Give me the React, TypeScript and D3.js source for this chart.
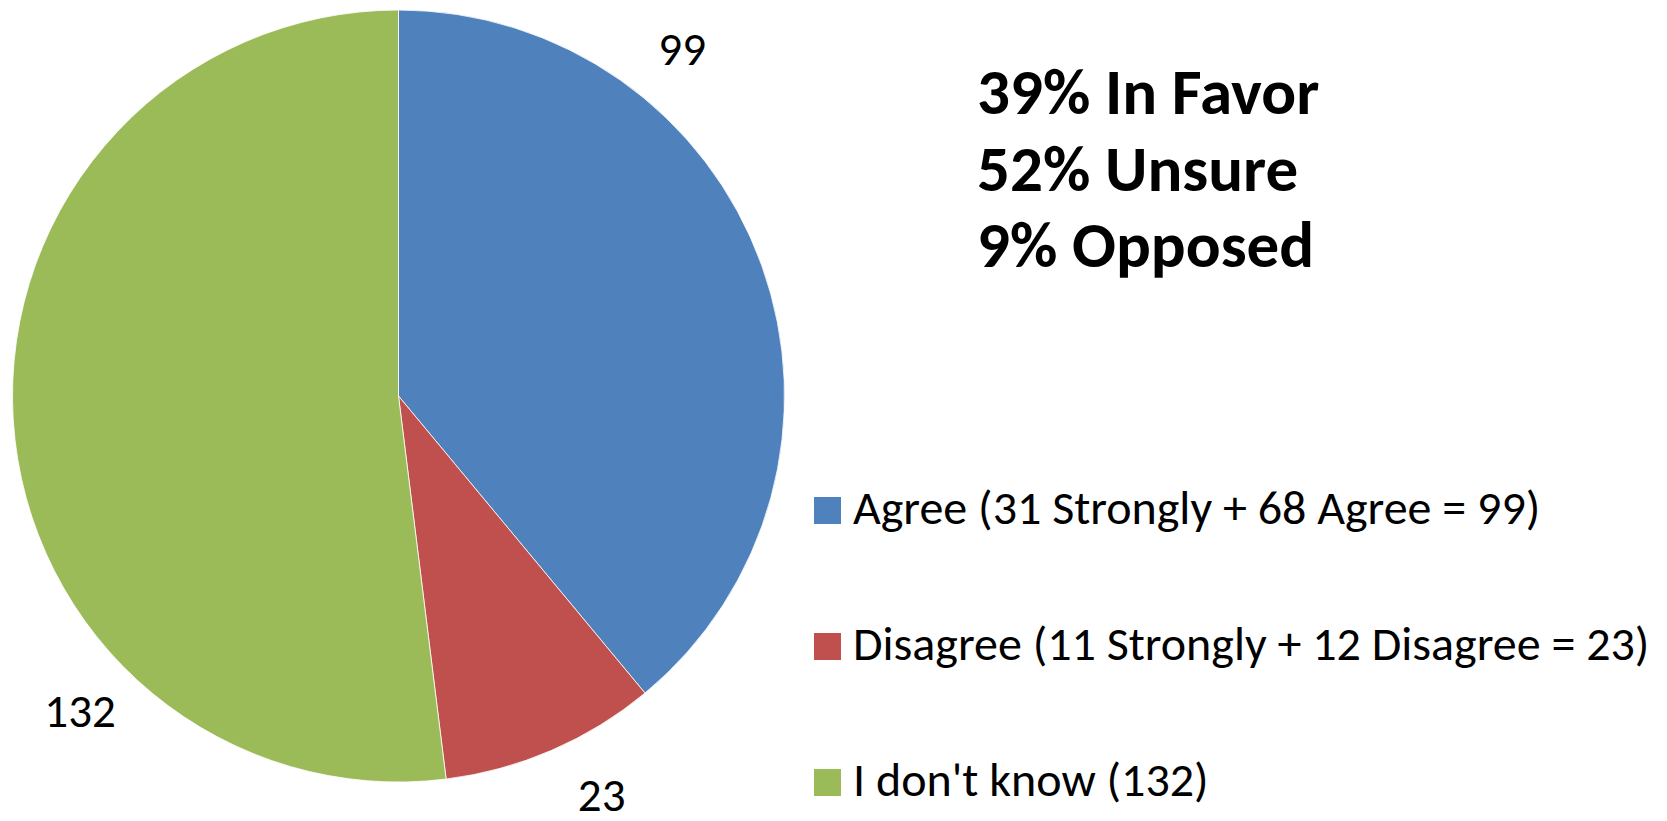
import { useEffect, useRef } from 'react'
import * as d3 from 'd3'

const categories = ['Agree', 'Disagree', "I don't know"]
const values = [99, 23, 132]
const legendLabels = [
  'Agree (31 Strongly + 68 Agree = 99)',
  'Disagree (11 Strongly + 12 Disagree = 23)',
  "I don't know (132)",
]
const summaryLines = ['39% In Favor', '52% Unsure', '9% Opposed']

const COLORS = ['#4F81BD', '#C0504D', '#9BBB59']
// where along each slice the value label sits (Excel "best fit")
const LABEL_FRACTION = [0.28, 0.39, 0.28]
const FONT = 'Carlito, Calibri, Lato, "Open Sans", sans-serif'

export default function App() {
  const ref = useRef<SVGSVGElement>(null)

  useEffect(() => {
    document.body.style.margin = '0'
    if (!ref.current) return
    const svg = d3.select(ref.current)
    svg.selectAll('*').remove()

    const width = 1667
    const height = 821
    svg.attr('width', width).attr('height', height).attr('viewBox', `0 0 ${width} ${height}`)

    const cx = 398.5
    const cy = 396
    const r = 386

    const data = categories.map((c, i) => ({ cat: c, value: values[i], color: COLORS[i] }))
    const pie = d3.pie<typeof data[0]>().sort(null).value(d => d.value)
    const arcs = pie(data)
    const arc = d3.arc<d3.PieArcDatum<typeof data[0]>>().innerRadius(0).outerRadius(r)

    const g = svg.append('g').attr('transform', `translate(${cx},${cy})`)

    g.selectAll('path')
      .data(arcs)
      .join('path')
      .attr('d', arc)
      .attr('fill', d => d.data.color)
      .attr('stroke', '#fff')
      .attr('stroke-width', 0.8)

    // value labels
    const labelR = 448
    const labelAngle = (d: d3.PieArcDatum<typeof data[0]>, i: number) =>
      d.startAngle + LABEL_FRACTION[i] * (d.endAngle - d.startAngle)
    g.selectAll('text.val')
      .data(arcs)
      .join('text')
      .attr('class', 'val')
      .attr('x', (d, i) => labelR * Math.sin(labelAngle(d, i)))
      .attr('y', (d, i) => -labelR * Math.cos(labelAngle(d, i)))
      .attr('dy', '0.33em')
      .attr('text-anchor', 'middle')
      .attr('font-family', FONT)
      .attr('font-size', '47px')
      .attr('fill', '#000')
      .text(d => d.data.value)

    // summary text
    svg.append('g')
      .selectAll('text')
      .data(summaryLines)
      .join('text')
      .attr('x', 977)
      .attr('y', (_, i) => 114 + i * 76.5)
      .attr('font-family', FONT)
      .attr('font-weight', 700)
      .attr('font-size', '65px')
      .attr('fill', '#000')
      .text(d => d)

    // legend
    const ly = d3.scalePoint<string>().domain(categories).range([524, 796])
    const legend = svg.append('g')
    categories.forEach((c, i) => {
      const y = ly(c)!
      legend.append('rect')
        .attr('x', 814).attr('y', y - 27)
        .attr('width', 27).attr('height', 27)
        .attr('fill', COLORS[i])
      legend.append('text')
        .attr('x', 853).attr('y', y)
        .attr('font-family', FONT)
        .attr('font-size', '48px')
        .attr('fill', '#000')
        .text(legendLabels[i])
    })
  }, [])

  return (
    <div style={{ position: 'relative', background: '#fff' }}>
      <svg ref={ref} style={{ display: 'block' }} />
    </div>
  )
}
